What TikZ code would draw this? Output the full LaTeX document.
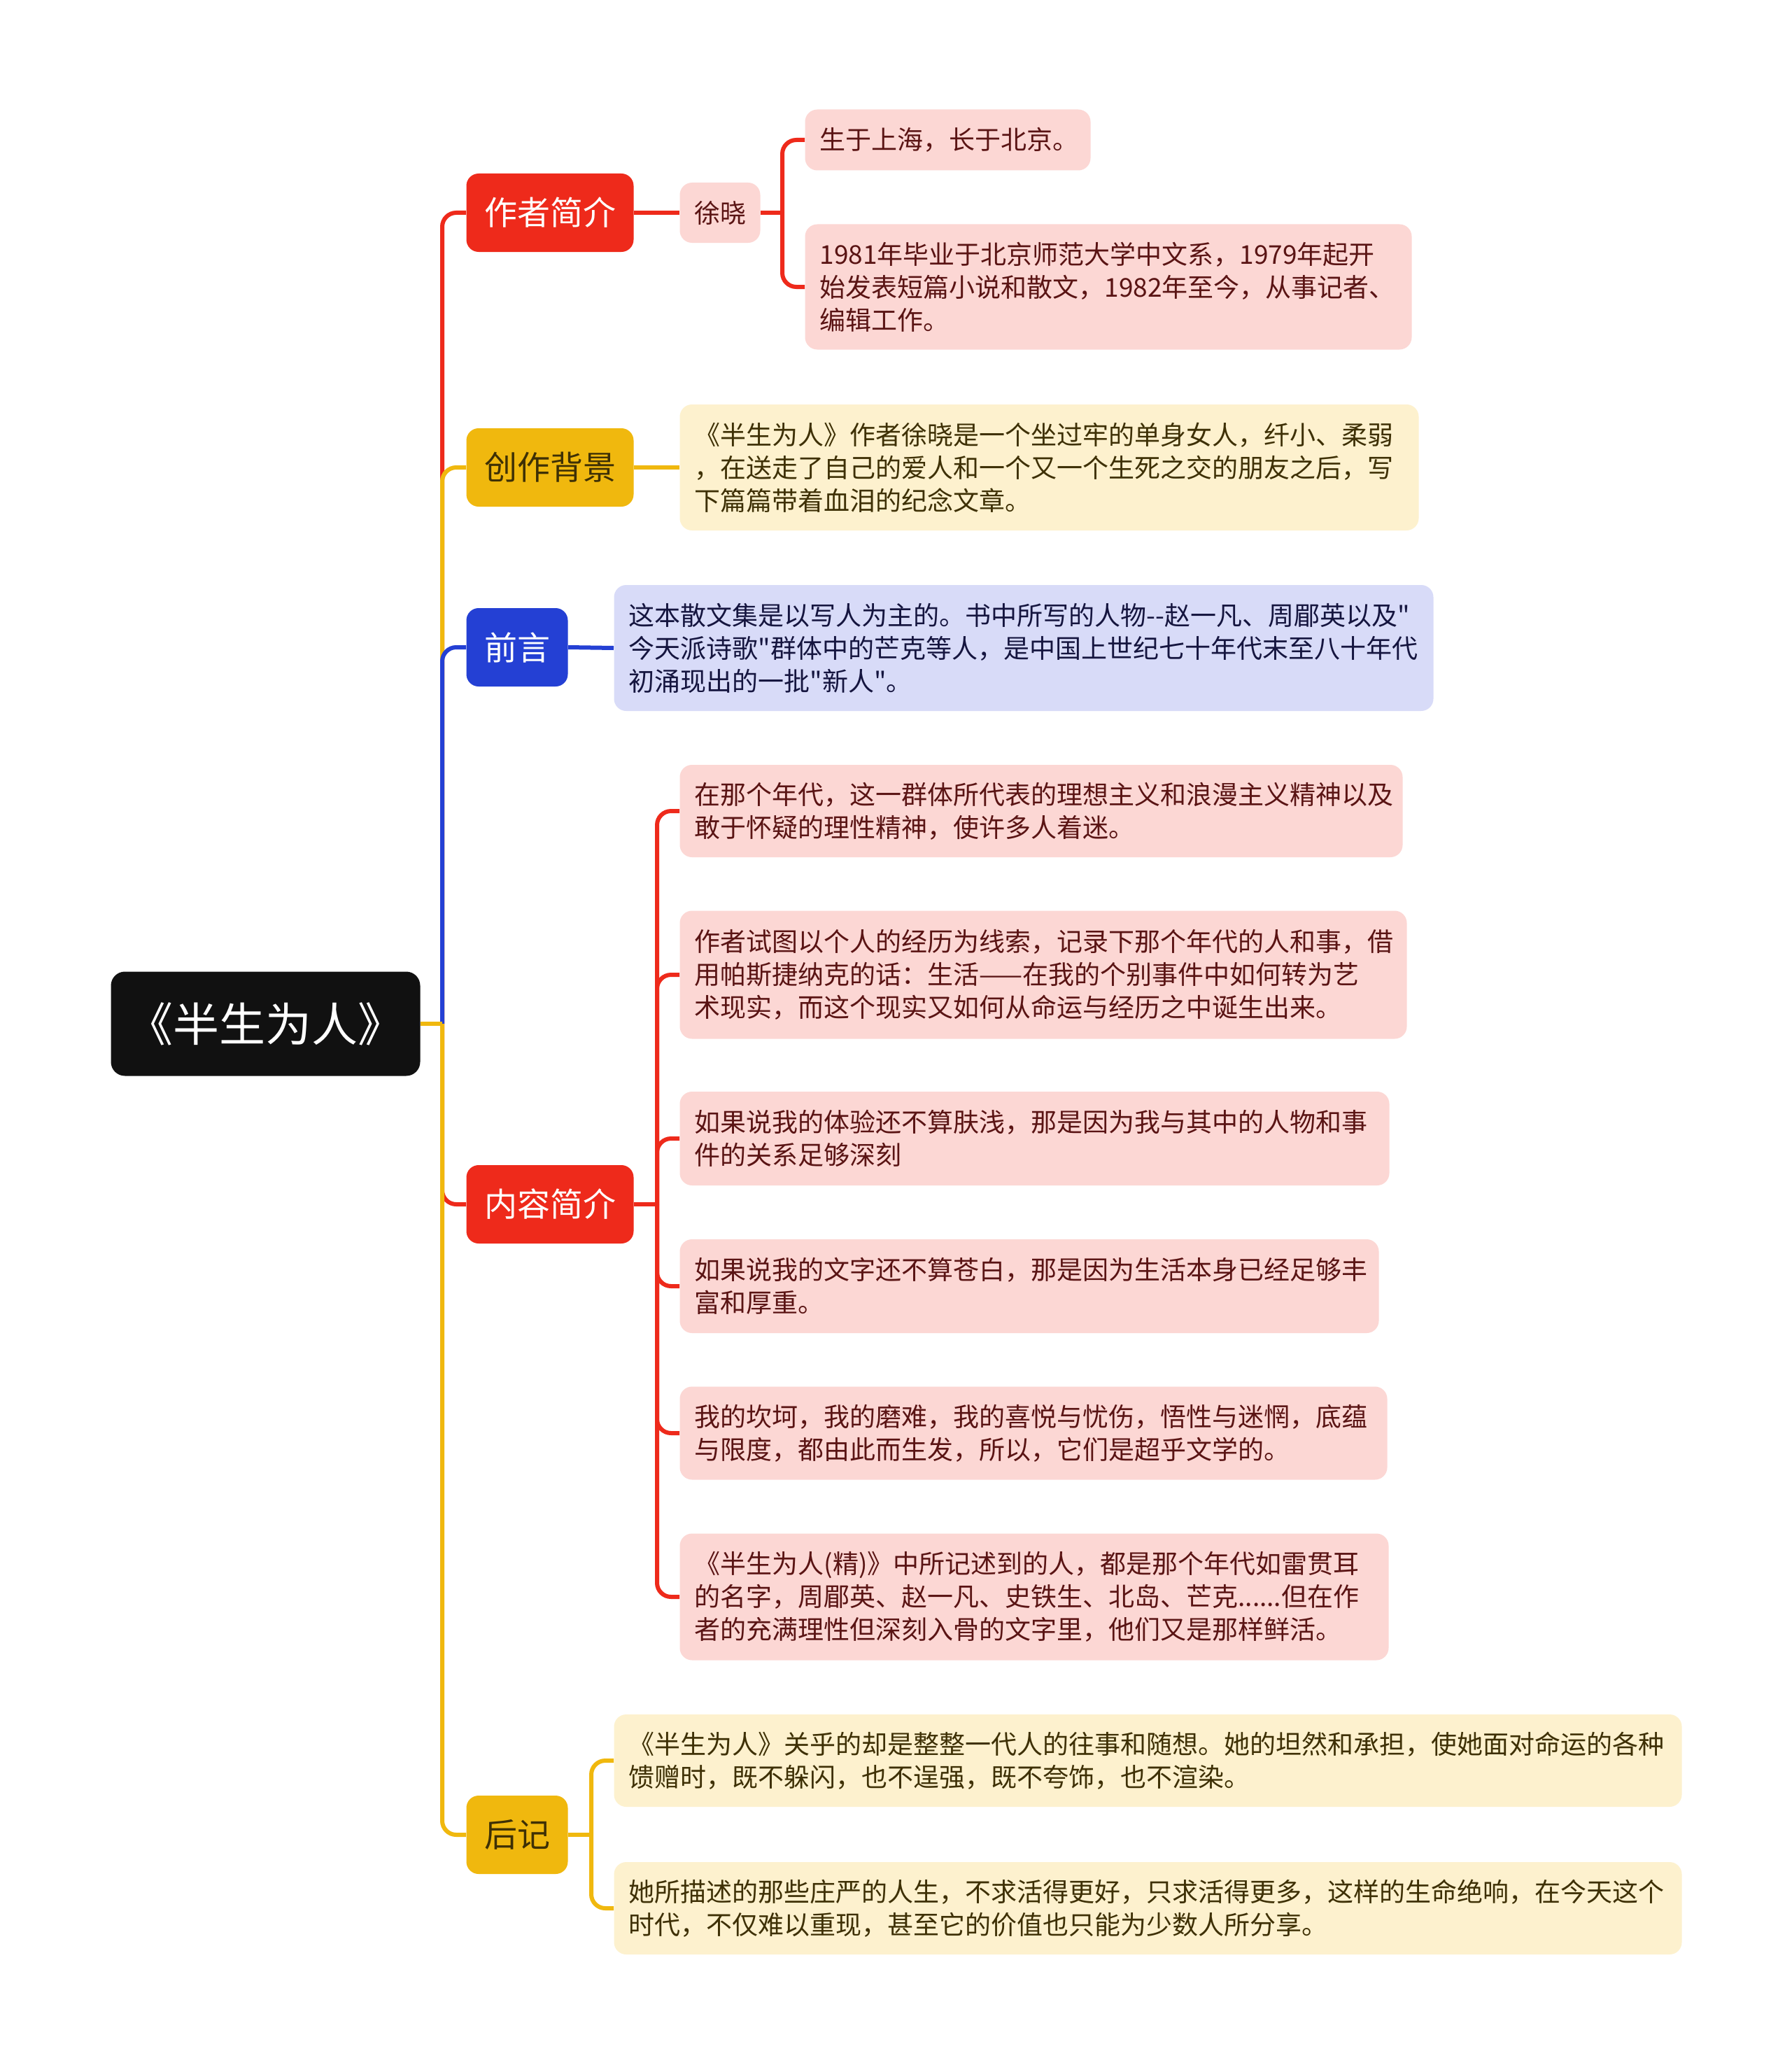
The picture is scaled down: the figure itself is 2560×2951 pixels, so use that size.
\documentclass[tikz,border=0pt]{standalone}
\usepackage{fontspec}
\newfontfamily\cjk{Noto Sans CJK SC}
\definecolor{cred}{HTML}{EE2A1B}
\definecolor{cyel}{HTML}{F0B80E}
\definecolor{cblu}{HTML}{2440D4}
\definecolor{pinkf}{HTML}{FCD7D4}
\definecolor{yelf}{HTML}{FDF1CE}
\definecolor{bluf}{HTML}{D8DBF8}
\definecolor{tred}{HTML}{5A1414}
\definecolor{tyel}{HTML}{3E3005}
\definecolor{tblu}{HTML}{15153F}
\definecolor{rootf}{HTML}{111111}
\tikzset{
  conn/.style={line width=2.4pt, rounded corners=8pt},
  redc/.style={conn, draw=cred},
  yelc/.style={conn, draw=cyel},
  bluc/.style={conn, draw=cblu},
  rootbox/.style={fill=rootf, text=white, rounded corners=8pt, minimum width=176.8pt, minimum height=59.6pt, inner sep=0pt, anchor=west, font=\cjk\fontsize{26.4pt}{30pt}\selectfont},
  branchbox/.style={rounded corners=7pt, minimum height=44.8pt, inner sep=0pt, anchor=west, font=\cjk\fontsize{18.8pt}{22pt}\selectfont},
  wide/.style={minimum width=95.6pt},
  narrow/.style={minimum width=58pt},
  leafbox/.style={rounded corners=7pt, anchor=west, inner xsep=8.4pt, inner ysep=0pt, align=left, font=\cjk\fontsize{14.8pt}{18.8pt}\selectfont},
  pinkbox/.style={leafbox, fill=pinkf, text=tred},
  yelbox/.style={leafbox, fill=yelf, text=tyel},
  blubox/.style={leafbox, fill=bluf, text=tblu},
}
\begin{document}
\begin{tikzpicture}[x=0.4pt, y=-0.4pt]
\useasboundingbox[fill=white] (0,0) rectangle (2560,2951);

% root
\node[rootbox] (root) at (158,1463) {《半生为人》};
\coordinate (j) at (632,1463);

% branches
\node[branchbox, wide, fill=cred, text=white] (b1) at (666,304) {作者简介};
\node[branchbox, wide, fill=cyel, text=tyel] (b2) at (666,668) {创作背景};
\node[branchbox, narrow, fill=cblu, text=white] (b3) at (666,925) {前言};
\node[branchbox, wide, fill=cred, text=white] (b4) at (666,1721) {内容简介};
\node[branchbox, narrow, fill=cyel, text=tyel] (b5) at (666,2622) {后记};

% author
\node[leafbox, fill=pinkf, text=tred, align=center, inner sep=0pt, minimum width=46pt, minimum height=34.4pt] (xu) at (971,304) {徐晓};
\node[pinkbox, text width=146.4pt, minimum height=34.8pt] (l1) at (1150,200) {生于上海，长于北京。};
\node[pinkbox, text width=330pt, minimum height=71.6pt] (l2) at (1150,410) {1981年毕业于北京师范大学中文系，1979年起开\\始发表短篇小说和散文，1982年至今，从事记者、\\编辑工作。};
\coordinate (xj) at (1118,304);

% background
\node[yelbox, text width=405.6pt, minimum height=72pt] (bg) at (971,668) {《半生为人》作者徐晓是一个坐过牢的单身女人，纤小、柔弱\\，在送走了自己的爱人和一个又一个生死之交的朋友之后，写\\下篇篇带着血泪的纪念文章。};

% preface
\node[blubox, text width=451.6pt, minimum height=72pt] (pr) at (877,926) {这本散文集是以写人为主的。书中所写的人物-{}-赵一凡、周郿英以及"\\今天派诗歌"群体中的芒克等人，是中国上世纪七十年代末至八十年代\\初涌现出的一批"新人"。};

% content
\coordinate (cj) at (939,1721);
\node[pinkbox, text width=396.4pt, minimum height=52.8pt] (c1) at (971,1159) {在那个年代，这一群体所代表的理想主义和浪漫主义精神以及\\敢于怀疑的理性精神，使许多人着迷。};
\node[pinkbox, text width=398.8pt, minimum height=73.2pt] (c2) at (971,1393) {作者试图以个人的经历为线索，记录下那个年代的人和事，借\\用帕斯捷纳克的话：生活——在我的个别事件中如何转为艺\\术现实，而这个现实又如何从命运与经历之中诞生出来。};
\node[pinkbox, text width=388.8pt, minimum height=53.6pt] (c3) at (971,1627) {如果说我的体验还不算肤浅，那是因为我与其中的人物和事\\件的关系足够深刻};
\node[pinkbox, text width=382.8pt, minimum height=53.6pt] (c4) at (971,1838) {如果说我的文字还不算苍白，那是因为生活本身已经足够丰\\富和厚重。};
\node[pinkbox, text width=387.6pt, minimum height=53.2pt] (c5) at (971,2048) {我的坎坷，我的磨难，我的喜悦与忧伤，悟性与迷惘，底蕴\\与限度，都由此而生发，所以，它们是超乎文学的。};
\node[pinkbox, text width=388.4pt, minimum height=72.4pt] (c6) at (971,2282) {《半生为人(精)》中所记述到的人，都是那个年代如雷贯耳\\的名字，周郿英、赵一凡、史铁生、北岛、芒克......但在作\\者的充满理性但深刻入骨的文字里，他们又是那样鲜活。};

% afterword
\coordinate (aj) at (845,2622);
\node[yelbox, text width=593.6pt, minimum height=52.8pt] (a1) at (877,2516) {《半生为人》关乎的却是整整一代人的往事和随想。她的坦然和承担，使她面对命运的各种\\馈赠时，既不躲闪，也不逞强，既不夸饰，也不渲染。};
\node[yelbox, text width=593.6pt, minimum height=52.8pt] (a2) at (877,2727) {她所描述的那些庄严的人生，不求活得更好，只求活得更多，这样的生命绝响，在今天这个\\时代，不仅难以重现，甚至它的价值也只能为少数人所分享。};

% trunk connectors
\begin{scope}[on background layer/.try]
\end{scope}
\draw[redc] (j) |- (b1.west);
\draw[yelc] (j) |- (b2.west);
\draw[bluc] (j) |- (b3.west);
\draw[redc] (j) |- (b4.west);
\draw[yelc] (j) |- (b5.west);
\draw[yelc] (root.east) -- (j);

% author connectors
\draw[redc] (b1.east) -- (xu.west);
\draw[redc] (xu.east) -- (xj);
\draw[redc] (xj) |- (l1.west);
\draw[redc] (xj) |- (l2.west);

% background / preface
\draw[yelc] (b2.east) -- (bg.west);
\draw[bluc] (b3.east) -- (pr.west);

% content connectors
\draw[redc] (b4.east) -- (cj);
\foreach \n in {c1,c2,c3,c4,c5,c6} {\draw[redc] (cj) |- (\n.west);}

% afterword connectors
\draw[yelc] (b5.east) -- (aj);
\draw[yelc] (aj) |- (a1.west);
\draw[yelc] (aj) |- (a2.west);
\end{tikzpicture}
\end{document}
